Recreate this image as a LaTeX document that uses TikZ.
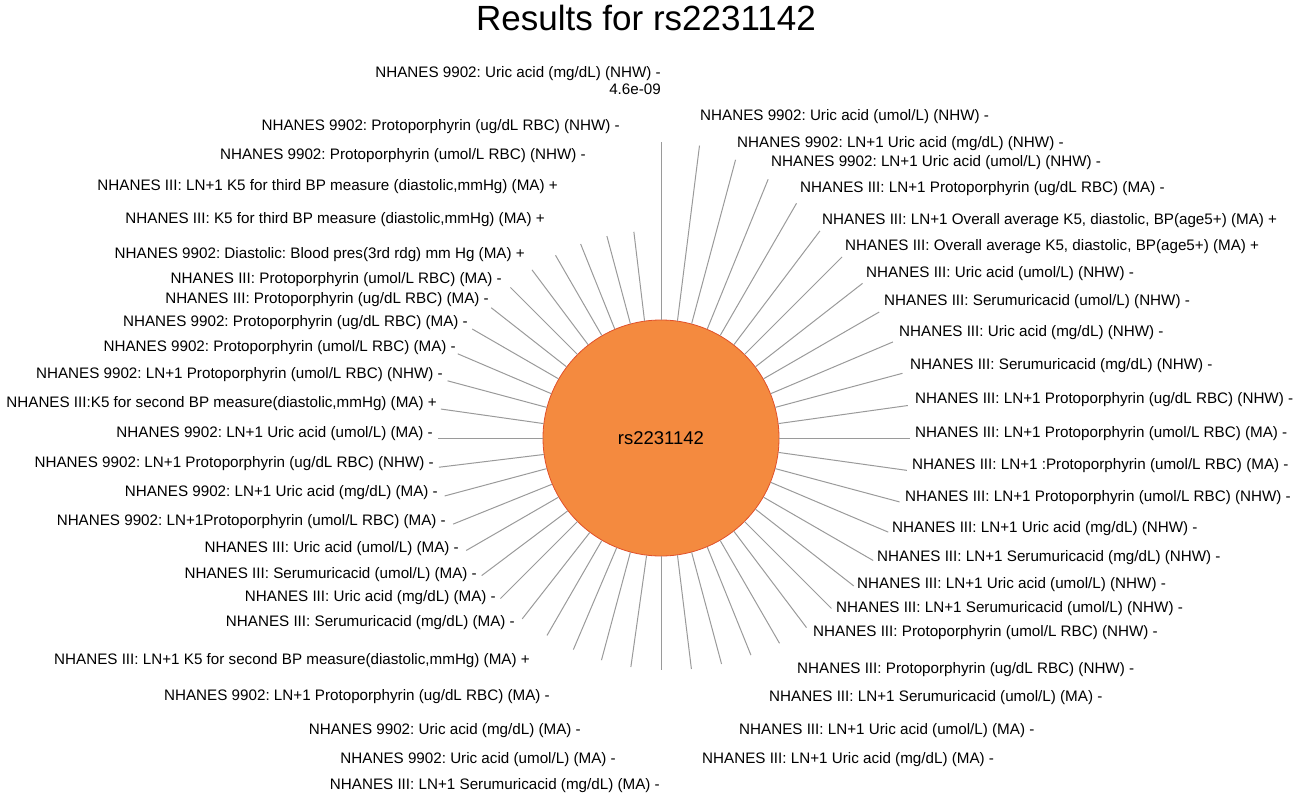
\documentclass[tikz,border=0pt]{standalone}
\usepackage{fontspec}
\setmainfont{Liberation Sans}
\usetikzlibrary{calc}
\definecolor{orfill}{HTML}{F48A3F}
\definecolor{ordraw}{HTML}{E0502A}
\definecolor{spoke}{HTML}{9A9A9A}
\frenchspacing
\begin{document}
\begin{tikzpicture}[x=1pt,y=-1pt,
  lab/.style={inner sep=0pt,font=\fontsize{15.2}{17}\selectfont},
  rl/.style={lab,anchor=west},
  ll/.style={lab,anchor=east},
  spk/.style={draw=spoke,line width=1pt}]
\useasboundingbox (0,0) rectangle (1298,800);
\node[font=\fontsize{35}{40}\selectfont,inner sep=0pt] (title) at (646,18) {Results for rs2231142};
\node[circle,fill=orfill,draw=ordraw,line width=0.8pt,minimum size=236pt,inner sep=0pt,font=\fontsize{18.5}{20}\selectfont] (c) at (661,438) {rs2231142};
\foreach \k/\R in {0/296,1/295,2/288,3/280,4/271,5/261,6/256,7/254,8/252,9/251,10/250,11/249,12/249,
 13/248,14/247,15/246,16/245,17/243,18/241,19/239,20/237,21/235,22/234,23/233,24/232,
 25/231,26/230,27/229,28/228,29/228,30/227,31/226,32/225,33/225,34/224,35/224,36/223,
 37/222,38/221,39/220,40/218,41/214,42/213,43/212,44/211,45/210,46/209,47/208}{
  \pgfmathsetmacro\a{90-7.5*\k}
  \coordinate (e\k) at ($(c.center)+({\R*cos(\a)},{-\R*sin(\a)})$);
  \draw[spk] (c.\a) -- (e\k);
}
% top
\node[ll,align=right] (t0) at (661,81) {NHANES 9902: Uric acid (mg/dL) (NHW) -\\4.6e-09};
% right
\node[rl] (r1) at (700,117) {NHANES 9902: Uric acid (umol/L) (NHW) -};
\node[rl] (r2) at (737,144) {NHANES 9902: LN+1 Uric acid (mg/dL) (NHW) -};
\node[rl] (r3) at (771,163) {NHANES 9902: LN+1 Uric acid (umol/L) (NHW) -};
\node[rl] (r4) at (800,189) {NHANES III: LN+1 Protoporphyrin (ug/dL RBC) (MA) -};
\node[rl] (r5) at (822,221) {NHANES III: LN+1 Overall average K5, diastolic, BP(age5+) (MA) +};
\node[rl] (r6) at (845,247) {NHANES III: Overall average K5, diastolic, BP(age5+) (MA) +};
\node[rl] (r7) at (866,274) {NHANES III: Uric acid (umol/L) (NHW) -};
\node[rl] (r8) at (884,302) {NHANES III: Serumuricacid (umol/L) (NHW) -};
\node[rl] (r9) at (899,333) {NHANES III: Uric acid (mg/dL) (NHW) -};
\node[rl] (r10) at (910,366) {NHANES III: Serumuricacid (mg/dL) (NHW) -};
\node[rl] (r11) at (915,400) {NHANES III: LN+1 Protoporphyrin (ug/dL RBC) (NHW) -};
\node[rl] (r12) at (915,434) {NHANES III: LN+1 Protoporphyrin (umol/L RBC) (MA) -};
\node[rl] (r13) at (912,466) {NHANES III: LN+1 :Protoporphyrin (umol/L RBC) (MA) -};
\node[rl] (r14) at (905,498) {NHANES III: LN+1 Protoporphyrin (umol/L RBC) (NHW) -};
\node[rl] (r15) at (892,529) {NHANES III: LN+1 Uric acid (mg/dL) (NHW) -};
\node[rl] (r16) at (877,558) {NHANES III: LN+1 Serumuricacid (mg/dL) (NHW) -};
\node[rl] (r17) at (857,585) {NHANES III: LN+1 Uric acid (umol/L) (NHW) -};
\node[rl] (r18) at (836,609) {NHANES III: LN+1 Serumuricacid (umol/L) (NHW) -};
\node[rl] (r19) at (813,633) {NHANES III: Protoporphyrin (umol/L RBC) (NHW) -};
\node[rl] (r20) at (797,670) {NHANES III: Protoporphyrin (ug/dL RBC) (NHW) -};
\node[rl] (r21) at (769,698) {NHANES III: LN+1 Serumuricacid (umol/L) (MA) -};
\node[rl] (r22) at (739,731) {NHANES III: LN+1 Uric acid (umol/L) (MA) -};
\node[rl] (r23) at (702,760) {NHANES III: LN+1 Uric acid (mg/dL) (MA) -};
% left
\node[ll] (l47) at (620,127) {NHANES 9902: Protoporphyrin (ug/dL RBC) (NHW) -};
\node[ll] (l46) at (586,156) {NHANES 9902: Protoporphyrin (umol/L RBC) (NHW) -};
\node[ll] (l45) at (558,187) {NHANES III: LN+1 K5 for third BP measure (diastolic,mmHg) (MA) +};
\node[ll] (l44) at (545,220) {NHANES III: K5 for third BP measure (diastolic,mmHg) (MA) +};
\node[ll] (l43) at (525,255) {NHANES 9902: Diastolic: Blood pres(3rd rdg) mm Hg (MA) +};
\node[ll] (l42) at (502,280) {NHANES III: Protoporphyrin (umol/L RBC) (MA) -};
\node[ll] (l41) at (489,300) {NHANES III: Protoporphyrin (ug/dL RBC) (MA) -};
\node[ll] (l40) at (468,323) {NHANES 9902: Protoporphyrin (ug/dL RBC) (MA) -};
\node[ll] (l39) at (456,348) {NHANES 9902: Protoporphyrin (umol/L RBC) (MA) -};
\node[ll] (l38) at (443,375) {NHANES 9902: LN+1 Protoporphyrin (umol/L RBC) (NHW) -};
\node[ll] (l37) at (437,404) {NHANES III:K5 for second BP measure(diastolic,mmHg) (MA) +};
\node[ll] (l36) at (433,434) {NHANES 9902: LN+1 Uric acid (umol/L) (MA) -};
\node[ll] (l35) at (434,464) {NHANES 9902: LN+1 Protoporphyrin (ug/dL RBC) (NHW) -};
\node[ll] (l34) at (438,493) {NHANES 9902: LN+1 Uric acid (mg/dL) (MA) -};
\node[ll] (l33) at (446,522) {NHANES 9902: LN+1Protoporphyrin (umol/L RBC) (MA) -};
\node[ll] (l32) at (459,549) {NHANES III: Uric acid (umol/L) (MA) -};
\node[ll] (l31) at (477,575) {NHANES III: Serumuricacid (umol/L) (MA) -};
\node[ll] (l30) at (496,598) {NHANES III: Uric acid (mg/dL) (MA) -};
\node[ll] (l29) at (515,623) {NHANES III: Serumuricacid (mg/dL) (MA) -};
\node[ll] (l28) at (530,661) {NHANES III: LN+1 K5 for second BP measure(diastolic,mmHg) (MA) +};
\node[ll] (l27) at (550,697) {NHANES 9902: LN+1 Protoporphyrin (ug/dL RBC) (MA) -};
\node[ll] (l26) at (581,731) {NHANES 9902: Uric acid (mg/dL) (MA) -};
\node[ll] (l25) at (616,760) {NHANES 9902: Uric acid (umol/L) (MA) -};
\node[ll] (l24) at (660,786) {NHANES III: LN+1 Serumuricacid (mg/dL) (MA) -};
\end{tikzpicture}
\end{document}
